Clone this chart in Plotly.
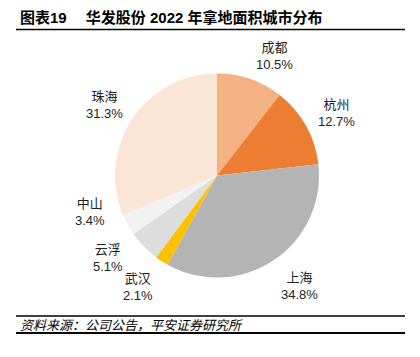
import math
import plotly.graph_objects as go

# ---- data ----
cities = ["成都", "杭州", "上海", "武汉", "云浮", "中山", "珠海"]
shares = [10.5, 12.7, 34.8, 2.1, 5.1, 3.4, 31.3]
colors = ["#F4B183", "#ED7D31", "#B4B4B4", "#FFC000", "#DDDDDD", "#F2F2F2", "#FBE5D6"]

title_text = "图表19　 华发股份 2022 年拿地面积城市分布"
source_text = "资料来源：公司公告，平安证券研究所"

# ---- layout geometry (screen pixels; page body has an 8px margin) ----
OFF = 8
W, H = 420 - OFF, 357 - OFF
cx, cy, R = 217, 175.5, 102          # pie centre / radius on screen
label_angle_nudge = [7, 1.6, -3, 2.4, 7, 13, -1.6]   # degrees, to avoid overlap
label_dist = [1.30, 1.32, 1.35, 1.34, 1.34, 1.29, 1.30]

FONT = "Liberation Sans, Arial, Noto Sans CJK SC, sans-serif"

def px_x(x):
    return (x - OFF) / W

def px_y(y):
    return 1 - (y - OFF) / H

fig = go.Figure(go.Pie(
    labels=cities,
    values=shares,
    sort=False,
    direction="clockwise",
    rotation=0,
    marker=dict(colors=colors, line=dict(width=0)),
    textinfo="none",
    hoverinfo="label+percent",
    domain=dict(x=[px_x(cx - R), px_x(cx + R)], y=[px_y(cy + R), px_y(cy - R)]),
    showlegend=False,
))

annotations = []
total = sum(shares)
cum = 0.0
for i, (name, v) in enumerate(zip(cities, shares)):
    mid = (cum + v / 2) / total * 360 + label_angle_nudge[i]
    cum += v
    th = math.radians(mid)
    lx = cx + label_dist[i] * R * math.sin(th)
    ly = cy - label_dist[i] * R * math.cos(th)
    annotations.append(dict(
        x=px_x(lx), y=px_y(ly), xref="paper", yref="paper",
        text=f"{name}<br>{v:.1f}%", showarrow=False,
        xanchor="center", yanchor="middle", align="center",
        font=dict(size=13, color="#222222", family=FONT),
    ))

annotations.append(dict(
    x=px_x(18), y=px_y(17.5), xref="paper", yref="paper",
    text=f"<b>{title_text}</b>", showarrow=False,
    xanchor="left", yanchor="middle",
    font=dict(size=15, color="#000000", family=FONT),
))
annotations.append(dict(
    x=px_x(18), y=px_y(325), xref="paper", yref="paper",
    text=f"<i>{source_text}</i>", showarrow=False,
    xanchor="left", yanchor="middle",
    font=dict(size=13, color="#000000", family=FONT),
))

shapes = []
for y, w in [(5.5, 2), (29.5, 1.5), (316, 1.5), (333, 2)]:
    shapes.append(dict(type="line", xref="paper", yref="paper",
                       x0=px_x(16), x1=px_x(405), y0=px_y(y), y1=px_y(y),
                       line=dict(color="#000000", width=w)))

fig.update_layout(
    width=W, height=H,
    margin=dict(l=0, r=0, t=0, b=0),
    paper_bgcolor="white", plot_bgcolor="white",
    annotations=annotations,
    shapes=shapes,
)

fig.write_html("out.html")
